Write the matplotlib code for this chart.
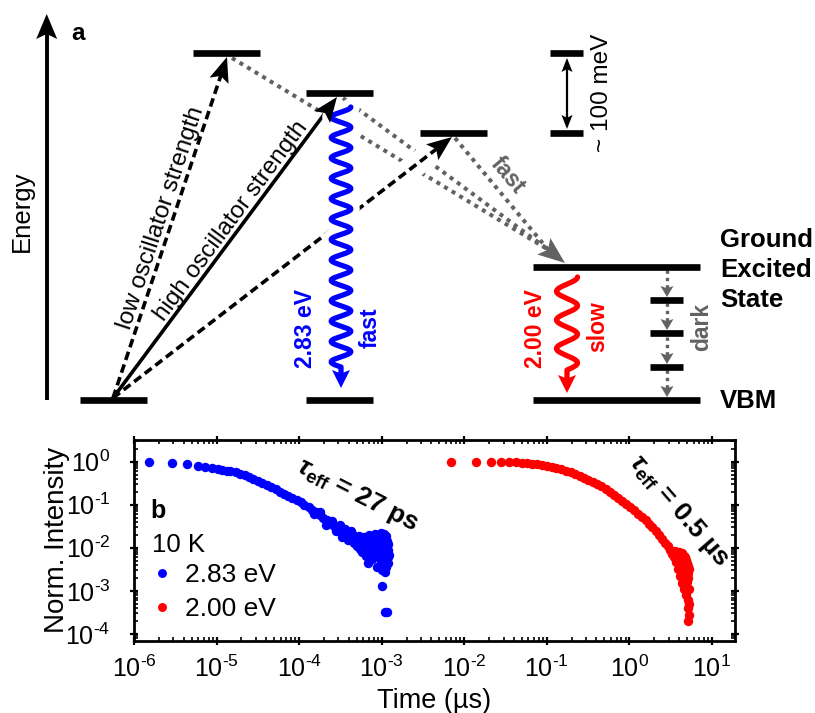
import numpy as np
import matplotlib.pyplot as plt
import matplotlib.patheffects as pe
from matplotlib.patches import Polygon
from matplotlib.ticker import LogLocator, NullFormatter, FuncFormatter

plt.rcParams['font.family'] = ['Liberation Sans', 'DejaVu Sans']
plt.rcParams['mathtext.fontset'] = 'custom'
plt.rcParams['mathtext.rm'] = 'Liberation Sans'
plt.rcParams['mathtext.it'] = 'Liberation Sans:italic'
plt.rcParams['mathtext.bf'] = 'Liberation Sans:bold'
plt.rcParams['mathtext.bfit'] = 'Liberation Sans:italic:bold'

# ---- panel b: PL decay at 10 K (time in us, normalised intensity) ----
t_blue = [1.5e-6, 2.9e-6, 4.4e-6, 5.9e-6, 7.3e-6, 8.8e-6, 1.03e-5, 1.18e-5, 1.32e-5,
          1.47e-5, 1.7e-5, 1.95e-5, 2.2e-5, 2.5e-5, 2.8e-5, 3.2e-5, 3.6e-5, 4.1e-5,
          4.6e-5, 5.2e-5, 5.9e-5, 6.6e-5, 7.4e-5, 8.3e-5, 9.3e-5, 1.04e-4, 1.16e-4,
          1.3e-4, 1.45e-4, 1.5e-4, 1.6e-4, 1.78e-4, 1.8e-4, 1.97e-4, 2.1e-4, 2.18e-4,
          2.4e-4, 2.5e-4, 2.65e-4, 2.8e-4, 2.9e-4, 3.1e-4, 3.2e-4, 3.3e-4, 3.5e-4,
          3.6e-4, 3.8e-4, 3.9e-4, 4.1e-4, 4.2e-4, 4.4e-4,
          4.5e-4, 4.6e-4, 4.9e-4, 5.0e-4, 5.3e-4, 5.4e-4, 5.7e-4, 5.8e-4, 6.1e-4,
          6.2e-4, 6.4e-4, 6.6e-4, 6.8e-4, 6.9e-4, 7.1e-4, 7.3e-4, 7.5e-4, 7.7e-4,
          7.9e-4, 8.1e-4, 8.3e-4, 8.5e-4, 8.7e-4, 8.9e-4, 9.1e-4, 9.3e-4, 9.5e-4,
          9.7e-4, 9.9e-4, 1.0e-3, 1.01e-3, 1.02e-3, 1.03e-3, 1.05e-3, 1.06e-3, 1.07e-3,
          1.08e-3, 1.09e-3, 1.10e-3, 1.11e-3, 1.12e-3, 1.13e-3, 1.14e-3, 1.15e-3,
          1.16e-3, 1.17e-3, 1.18e-3, 1.19e-3, 1.20e-3, 1.21e-3, 1.22e-3]
i_blue = [1.00, 0.94, 0.86, 0.80, 0.75, 0.71, 0.68, 0.65, 0.62,
          0.60, 0.56, 0.52, 0.48, 0.44, 0.40, 0.36, 0.32, 0.29,
          0.26, 0.23, 0.20, 0.18, 0.16, 0.145, 0.13, 0.115, 0.10,
          0.088, 0.077, 0.062, 0.067, 0.058, 0.066, 0.050, 0.034, 0.043,
          0.037, 0.042, 0.032, 0.024, 0.028, 0.033, 0.024, 0.018, 0.022,
          0.028, 0.021, 0.015, 0.019, 0.024, 0.017,
          0.020, 0.013, 0.017, 0.011, 0.019, 0.0095, 0.015, 0.008, 0.018,
          0.011, 0.0065, 0.016, 0.0045, 0.010, 0.020, 0.0075, 0.013, 0.0055,
          0.017, 0.009, 0.021, 0.0065, 0.012, 0.0035, 0.019, 0.008, 0.014,
          0.005, 0.022, 0.0105, 0.003, 0.0013, 0.017, 0.0065, 0.021, 0.0045,
          0.012, 0.0028, 0.016, 0.00032, 0.008, 0.019, 0.0035, 0.00033,
          0.011, 0.014, 0.006, 0.0045, 0.009, 0.012, 0.0068]

t_red = [0.007, 0.014, 0.021, 0.028, 0.035, 0.042, 0.05, 0.058, 0.067, 0.077, 0.088,
         0.10, 0.115, 0.13, 0.15, 0.17, 0.195, 0.22, 0.25, 0.285, 0.32, 0.36, 0.41,
         0.46, 0.52, 0.58, 0.65, 0.73, 0.82, 0.92, 1.03, 1.15, 1.28, 1.42, 1.57, 1.73,
         1.9, 2.08, 2.27, 2.47, 2.68, 2.9, 3.1, 3.3, 3.5,
         3.6, 3.7, 3.8, 3.9, 4.0, 4.05, 4.1, 4.2, 4.3, 4.35, 4.4, 4.5, 4.55, 4.6,
         4.65, 4.7, 4.75, 4.8, 4.85, 4.9, 4.95, 5.0, 5.05, 5.1, 5.1, 5.15, 5.2, 5.2,
         5.25, 5.25, 5.3, 5.3, 5.2]
i_red = [1.00, 1.00, 0.99, 0.98, 0.97, 0.955, 0.94, 0.92, 0.90, 0.87, 0.84,
         0.80, 0.76, 0.72, 0.67, 0.62, 0.56, 0.51, 0.46, 0.41, 0.37, 0.33, 0.30,
         0.27, 0.23, 0.20, 0.17, 0.145, 0.12, 0.105, 0.09, 0.075, 0.062, 0.051, 0.043, 0.036,
         0.030, 0.024, 0.020, 0.016, 0.013, 0.011, 0.009, 0.0072, 0.006,
         0.0085, 0.0048, 0.0070, 0.0032, 0.0080, 0.0050, 0.0022, 0.0068, 0.0036, 0.0015,
         0.0075, 0.0048, 0.0026, 0.0065, 0.0011, 0.0040, 0.0060, 0.0020, 0.0052, 0.0008,
         0.0033, 0.0045, 0.0016, 0.0038, 0.0006, 0.0026, 0.0004, 0.0020, 0.00028, 0.0032,
         0.0011, 0.0005, 0.0002]

# ---- panel a: energy level scheme (pixel coordinates of the canvas) ----
level_x0 = [80, 193, 306, 420, 306, 533, 533]
level_x1 = [147, 260, 373, 487, 373, 700, 700]
level_y = [400, 53, 93, 133, 400, 267, 400]
dark_x0, dark_x1 = 650, 683
dark_y = [300, 333, 367]
scale_y = [53, 133]

exc_start = (113, 398)
exc_tips = [(227, 57), (337, 97), (452, 137)]
exc_styles = [(0, (2.4, 1.3)), '-', (0, (2.4, 1.3))]

relax_from = [(232, 58), (343, 98), (455, 138)]
relax_tip = (565, 263)

W, H = 815, 713
GRAY = '#626262'
DOT = (0, (1, 1.2))

fig = plt.figure(figsize=(W / 100, H / 100), dpi=100)
ax = fig.add_axes([0, 0, 1, 1])
ax.set_xlim(0, W)
ax.set_ylim(H, 0)
ax.axis('off')


def head(tip, frm, length, width, color, z=6):
    tip = np.asarray(tip, float)
    d = tip - np.asarray(frm, float)
    d /= np.hypot(*d)
    n = np.array([-d[1], d[0]])
    base = tip - d * length
    pts = [tip, base + n * width / 2, tip - d * length * 0.8, base - n * width / 2]
    ax.add_patch(Polygon(pts, closed=True, fc=color, ec='none', zorder=z))
    return tip - d * length * 0.8


def arrow(start, tip, ls, color='k', lw=2.6, hl=25, hw=20, z=3):
    b = head(tip, start, hl, hw, color)
    ax.plot([start[0], b[0]], [start[1], b[1]], color=color, lw=lw, ls=ls,
            solid_capstyle='butt', zorder=z)


def wiggle(x, y0, y1, amp, periods, tip, color):
    yy = np.linspace(y0, y1, 600)
    xx = x + amp * np.cos(2 * np.pi * periods * (yy - y0) / (y1 - y0))
    b = head((x, tip), (x, y0), 18, 18, color, z=6)
    ax.plot(np.append(xx, x), np.append(yy, b[1]), color=color, lw=3.8,
            solid_capstyle='round', zorder=4,
            path_effects=[pe.Stroke(linewidth=13, foreground='white'), pe.Normal()])


# energy axis
ax.plot([46.7, 46.7], [400, 34], color='k', lw=2.8, solid_capstyle='butt')
head((46.7, 14), (46.7, 400), 25, 21, 'k')
ax.text(22, 211, 'Energy', rotation=90, ha='center', va='center', fontsize=18.5)
ax.text(78, 33, 'a', ha='center', va='center', fontsize=17.5, fontweight='bold')

# levels
for x0, x1, y in zip(level_x0, level_x1, level_y):
    ax.plot([x0, x1], [y, y], color='k', lw=4.8, solid_capstyle='butt', zorder=5)
for y in dark_y:
    ax.plot([dark_x0, dark_x1], [y, y], color='k', lw=4.8, solid_capstyle='butt', zorder=5)
for y in scale_y:
    ax.plot([550, 583], [y, y], color='k', lw=4.8, solid_capstyle='butt', zorder=5)

# ~100 meV bar
b1 = head((567, 58), (567, 130), 14, 11, 'k')
b2 = head((567, 129), (567, 58), 14, 11, 'k')
ax.plot([567, 567], [b1[1], b2[1]], color='k', lw=1.6)
ax.text(602, 93, '~ 100 meV', rotation=90, ha='center', va='center', fontsize=17.5)

# relaxation paths (grey dotted)
b = head(relax_tip, (541, 244), 27, 21, GRAY)
for p in relax_from:
    ax.plot([p[0], b[0]], [p[1], b[1]], color=GRAY, lw=2.9, ls=DOT, zorder=1)
ax.text(508, 175, 'fast', rotation=-50, ha='center', va='center', fontsize=16.5,
        fontweight='bold', color=GRAY, rotation_mode='anchor')

# white gap where the dashed excitation crosses the grey paths
ax.plot([385, 440], [398 - 0.77 * 272, 398 - 0.77 * 327], color='white', lw=17,
        solid_capstyle='butt', zorder=2)

# excitation arrows
for tip, ls in zip(exc_tips, exc_styles):
    arrow(exc_start, tip, ls)

ax.text(161, 218, 'low oscillator strength', rotation=71.7, ha='center', va='center',
        fontsize=17.5, rotation_mode='anchor')
ax.text(231, 221, 'high oscillator strength', rotation=53.5, ha='center', va='center',
        fontsize=17.5, rotation_mode='anchor')

# emission
wiggle(341, 107, 367, 9.8, 12.75, 388, '#0000ff')
ax.text(305, 328, '2.83 eV', rotation=90, ha='center', va='center', fontsize=16.5,
        fontweight='bold', color='#0000ff')
ax.text(370, 328, 'fast', rotation=90, ha='center', va='center', fontsize=16.5,
        fontweight='bold', color='#0000ff')

wiggle(567, 277, 370, 10.5, 3.25, 393, '#ff0000')
ax.text(535, 329, '2.00 eV', rotation=90, ha='center', va='center', fontsize=16.5,
        fontweight='bold', color='#ff0000')
ax.text(598, 327, 'slow', rotation=90, ha='center', va='center', fontsize=16.5,
        fontweight='bold', color='#ff0000')

# dark-state cascade
for y0, y1 in zip([270, 303, 337, 370], [297, 330, 364, 397]):
    b = head((667, y1), (667, y0), 11, 13, GRAY)
    ax.plot([667, 667], [y0, b[1]], color=GRAY, lw=2.4, ls=DOT, zorder=1)
ax.text(702, 327, 'dark', rotation=90, ha='center', va='center', fontsize=16.5,
        fontweight='bold', color=GRAY)

for txt, y in zip(['Ground', 'Excited', 'State', 'VBM'], [247, 277, 307, 408]):
    ax.text(720, y, txt, ha='left', va='baseline', fontsize=18.5, fontweight='bold')

# ---- panel b axes ----
axb = fig.add_axes([134 / W, 1 - 640.5 / H, (735 - 134) / W, 200.5 / H])
axb.scatter(t_blue, i_blue, s=46, color='#0000ff', lw=0, label='2.83 eV', zorder=3)
axb.scatter(t_red, i_red, s=46, color='#ff0000', lw=0, label='2.00 eV', zorder=3)
axb.set_xscale('log')
axb.set_yscale('log')
axb.set_xlim(1e-6, 10 ** 1.28)
axb.set_ylim(10 ** -4.15, 10 ** 0.5)


def decade(v, pos):
    e = int(round(np.log10(v)))
    return r'$\mathdefault{10^{%s}}$' % str(e).replace('-', '\u2010')


for a in (axb.xaxis, axb.yaxis):
    a.set_major_locator(LogLocator(base=10, numticks=30))
    a.set_major_formatter(FuncFormatter(decade))
    a.set_minor_locator(LogLocator(base=10, subs=np.arange(2, 10), numticks=30))
    a.set_minor_formatter(NullFormatter())
axb.tick_params(which='major', direction='inout', length=6, width=1.6, labelsize=18,
                top=True, right=True)
axb.tick_params(which='minor', direction='in', length=3, width=1.2, top=True, right=True)
axb.tick_params(axis='x', which='major', pad=8)
axb.tick_params(axis='y', which='major', pad=14)
for s in axb.spines.values():
    s.set_linewidth(2)

axb.set_xlabel('Time (µs)', fontsize=19.5)
axb.set_ylabel('Norm. Intensity', fontsize=20)
axb.xaxis.set_label_coords(0.5, -0.235)
axb.yaxis.set_label_coords(-0.107, 0.5)

axb.text(0.028, 0.611, 'b', transform=axb.transAxes, fontsize=18, fontweight='bold',
         va='baseline')
axb.text(0.030, 0.441, '10 K', transform=axb.transAxes, fontsize=18.5, va='baseline')
axb.legend(loc='upper left', bbox_to_anchor=(0.0330, 0.385), frameon=False, fontsize=19,
           handlelength=0.6, handletextpad=0.6, borderaxespad=0, borderpad=0,
           labelspacing=0.38, scatterpoints=1, scatteryoffsets=[0.5], markerscale=0.95)

axb.text(5.0e-4, 0.166, r'$\mathbfit{\tau}_{\mathbf{eff}}$ = 27 ps', rotation=-27,
         ha='center', va='center', rotation_mode='anchor', fontsize=19, fontweight='bold')
axb.text(3.96, 0.074, r'$\mathbfit{\tau}_{\mathbf{eff}}$ = 0.5 µs', rotation=-49,
         ha='center', va='center', rotation_mode='anchor', fontsize=19, fontweight='bold')

fig.savefig('out.png', dpi=100, facecolor='white')
